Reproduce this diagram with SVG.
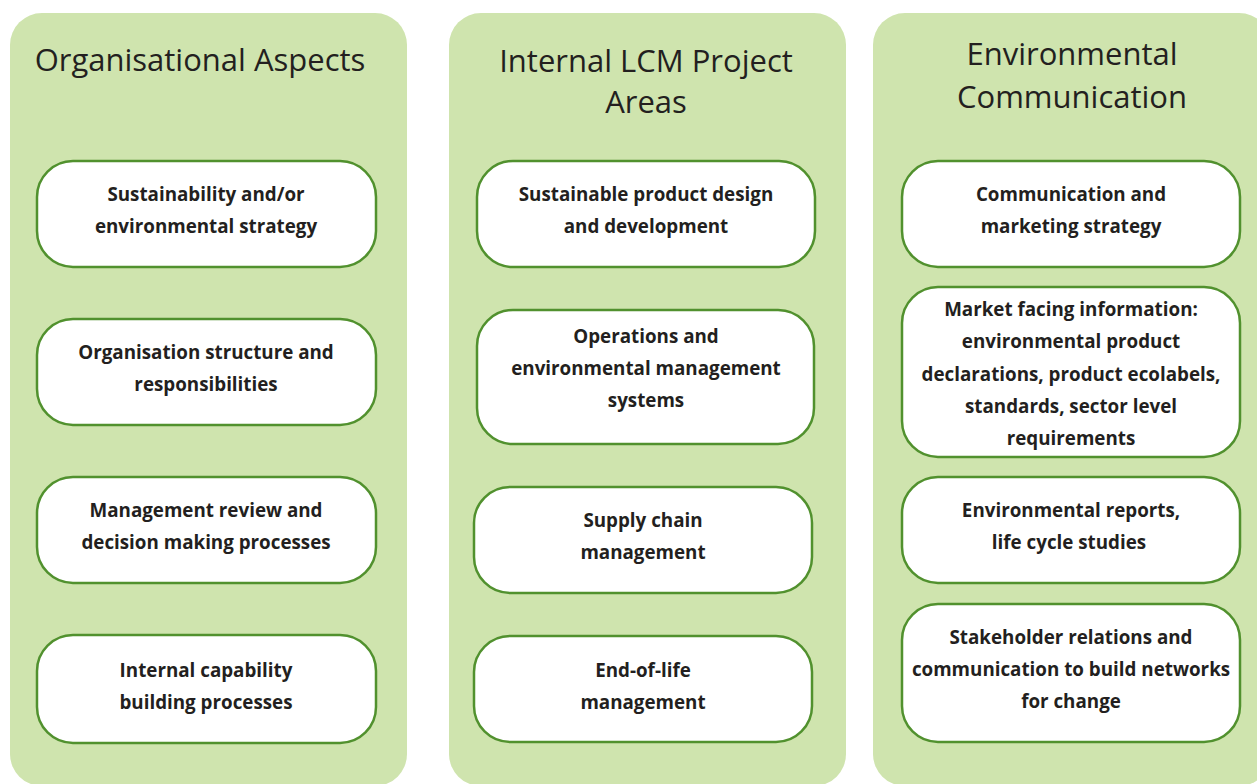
<svg xmlns="http://www.w3.org/2000/svg" width="1257" height="784" viewBox="0 0 1257 784">
<style>
.panel{fill:#cfe4ae;}
.box{fill:#ffffff;stroke:#51912e;stroke-width:2.5;}
.title{font-family:"Open Sans","Liberation Sans",sans-serif;font-size:31px;fill:#231f20;text-anchor:middle;}
.lbl{font-family:"Open Sans","Liberation Sans",sans-serif;font-size:18.8px;font-weight:700;fill:#231f20;text-anchor:middle;}
</style>
<rect width="1257" height="784" fill="#ffffff"/>
<g id="panel-organisational">
<rect class="panel" x="10" y="13" width="397" height="773" rx="32"/>
<text class="title" x="200" y="71">Organisational Aspects</text>
</g>
<g id="panel-internal">
<rect class="panel" x="449" y="13" width="397" height="773" rx="32"/>
<text class="title" x="646" y="72">Internal LCM Project</text>
<text class="title" x="646" y="113">Areas</text>
</g>
<g id="panel-communication">
<rect class="panel" x="873" y="13" width="398" height="773" rx="32"/>
<text class="title" x="1072" y="65">Environmental</text>
<text class="title" x="1072" y="108">Communication</text>
</g>
<g id="n-sustainability-strategy">
<rect class="box" x="37" y="161" width="339" height="106" rx="36"/>
<text class="lbl" x="206" y="201">Sustainability and/or</text>
<text class="lbl" x="206" y="233">environmental strategy</text>
</g>
<g id="n-organisation-structure">
<rect class="box" x="37" y="319" width="339" height="106" rx="36"/>
<text class="lbl" x="206" y="359">Organisation structure and</text>
<text class="lbl" x="206" y="391">responsibilities</text>
</g>
<g id="n-management-review">
<rect class="box" x="37" y="477" width="339" height="106" rx="36"/>
<text class="lbl" x="206" y="517">Management review and</text>
<text class="lbl" x="206" y="549">decision making processes</text>
</g>
<g id="n-capability-building">
<rect class="box" x="37" y="635" width="339" height="108" rx="36"/>
<text class="lbl" x="206" y="677">Internal capability</text>
<text class="lbl" x="206" y="709">building processes</text>
</g>
<g id="n-product-design">
<rect class="box" x="477" y="161" width="338" height="106" rx="36"/>
<text class="lbl" x="646" y="201">Sustainable product design</text>
<text class="lbl" x="646" y="233">and development</text>
</g>
<g id="n-operations-ems">
<rect class="box" x="477" y="310" width="337" height="134" rx="36"/>
<text class="lbl" x="646" y="343">Operations and</text>
<text class="lbl" x="646" y="375">environmental management</text>
<text class="lbl" x="646" y="407">systems</text>
</g>
<g id="n-supply-chain">
<rect class="box" x="474" y="487" width="338" height="106" rx="36"/>
<text class="lbl" x="643" y="527">Supply chain</text>
<text class="lbl" x="643" y="559">management</text>
</g>
<g id="n-end-of-life">
<rect class="box" x="474" y="636" width="338" height="106" rx="36"/>
<text class="lbl" x="643" y="677">End-of-life</text>
<text class="lbl" x="643" y="709">management</text>
</g>
<g id="n-communication-strategy">
<rect class="box" x="902" y="161" width="338" height="106" rx="36"/>
<text class="lbl" x="1071" y="201">Communication and</text>
<text class="lbl" x="1071" y="233">marketing strategy</text>
</g>
<g id="n-market-facing">
<rect class="box" x="902" y="287" width="338" height="170" rx="36"/>
<text class="lbl" x="1071" y="316">Market facing information:</text>
<text class="lbl" x="1071" y="348">environmental product</text>
<text class="lbl" x="1071" y="381">declarations, product ecolabels,</text>
<text class="lbl" x="1071" y="413">standards, sector level</text>
<text class="lbl" x="1071" y="445">requirements</text>
</g>
<g id="n-environmental-reports">
<rect class="box" x="902" y="477" width="338" height="106" rx="36"/>
<text class="lbl" x="1071" y="517">Environmental reports,</text>
<text class="lbl" x="1069" y="549">life cycle studies</text>
</g>
<g id="n-stakeholder-relations">
<rect class="box" x="902" y="604" width="338" height="138" rx="36"/>
<text class="lbl" x="1071" y="644">Stakeholder relations and</text>
<text class="lbl" x="1071" y="676">communication to build networks</text>
<text class="lbl" x="1071" y="708">for change</text>
</g>
<g id="connectors"></g>
</svg>
